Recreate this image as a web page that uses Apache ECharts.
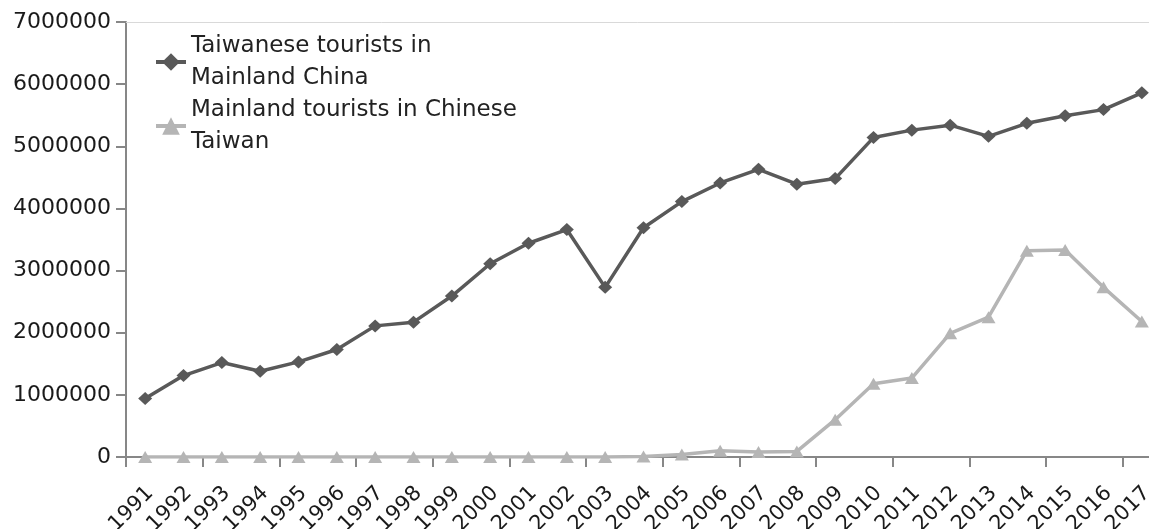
<!DOCTYPE html>
<html>
<head>
<meta charset="utf-8">
<script src="https://cdn.jsdelivr.net/npm/echarts@6/dist/echarts.min.js"></script>
<style>
html,body{margin:0;padding:0;background:#fff;}
#c{width:1149px;height:529px;}
</style>
</head>
<body>
<div id="c"></div>
<script>
var years = ['1991','1992','1993','1994','1995','1996','1997','1998','1999','2000','2001','2002','2003','2004','2005','2006','2007','2008','2009','2010','2011','2012','2013','2014','2015','2016','2017'];
var taiwaneseInMainland = [940000,1310000,1520000,1380000,1530000,1730000,2110000,2170000,2590000,3110000,3440000,3660000,2730000,3690000,4110000,4410000,4630000,4390000,4480000,5140000,5260000,5340000,5160000,5370000,5490000,5590000,5860000];
var mainlandInTaiwan = [0,0,0,0,0,0,0,0,0,0,0,0,0,10000,40000,100000,80000,90000,600000,1180000,1270000,1990000,2250000,3320000,3330000,2730000,2180000];
var seriesNames = ['Taiwanese tourists in Mainland China','Mainland tourists in Chinese Taiwan'];
var legendLabels = ['Taiwanese tourists in\nMainland China','Mainland tourists in Chinese\nTaiwan'];
var yTicks = {min:0, max:7000000, interval:1000000};

var FONT = 'DejaVu Sans';
var axisGray = '#878787';
var chart = echarts.init(document.getElementById('c'), null, {renderer:'canvas'});
chart.setOption({
  animation:false,
  backgroundColor:'#ffffff',
  textStyle:{fontFamily:FONT},
  legend:{
    orient:'vertical', left:154, top:30, itemGap:0, itemWidth:30, itemHeight:22,
    padding:0,
    data:seriesNames,
    lineStyle:{width:4},
    formatter:function(n){return legendLabels[seriesNames.indexOf(n)];},
    textStyle:{fontFamily:FONT, fontSize:23, lineHeight:32, color:'#222'}
  },
  grid:[
    {left:126, right:-12, top:22, bottom:72, containLabel:false, outerBoundsMode:'none'},
    {left:131, right:-17, top:22, bottom:72, containLabel:false, outerBoundsMode:'none'}
  ],
  xAxis:[
    {type:'category', gridIndex:0, data:years, boundaryGap:true,
     axisLine:{show:true, lineStyle:{color:axisGray, width:2}},
     axisTick:{show:true, length:10, alignWithLabel:false, lineStyle:{color:axisGray, width:2}},
     axisLabel:{show:false}, splitLine:{show:false}},
    {type:'category', gridIndex:0, data:years, position:'top',
     axisLine:{show:true, lineStyle:{color:'#d9d9d9', width:1}},
     axisTick:{show:false}, axisLabel:{show:false}, splitLine:{show:false}},
    {type:'category', gridIndex:1, data:years, boundaryGap:true,
     axisLine:{show:false}, axisTick:{show:false}, splitLine:{show:false},
     axisLabel:{show:true, interval:0, rotate:45, margin:33, fontFamily:FONT, fontSize:21, color:'#1a1a1a'}}
  ],
  yAxis:[
    {type:'value', gridIndex:0, min:yTicks.min, max:yTicks.max, interval:yTicks.interval,
     axisLine:{show:true, lineStyle:{color:axisGray, width:2}},
     axisTick:{show:true, length:10, lineStyle:{color:axisGray, width:2}},
     axisLabel:{show:true, margin:15, fontFamily:FONT, fontSize:22, color:'#1a1a1a', formatter:function(v){return String(v);}},
     splitLine:{show:false}},
    {type:'value', gridIndex:1, min:yTicks.min, max:yTicks.max, show:false, splitLine:{show:false}}
  ],
  series:[
    {name:seriesNames[0], type:'line', xAxisIndex:0, yAxisIndex:0, data:taiwaneseInMainland,
     symbol:'diamond', symbolSize:[14,13], showAllSymbol:true,
     lineStyle:{color:'#595959', width:3.5}, itemStyle:{color:'#595959'}, z:3},
    {name:seriesNames[1], type:'line', xAxisIndex:0, yAxisIndex:0, data:mainlandInTaiwan,
     symbol:'triangle', symbolSize:[14,12], showAllSymbol:true,
     lineStyle:{color:'#b5b5b5', width:3.5}, itemStyle:{color:'#b5b5b5'}, z:2}
  ]
});
</script>
</body>
</html>
